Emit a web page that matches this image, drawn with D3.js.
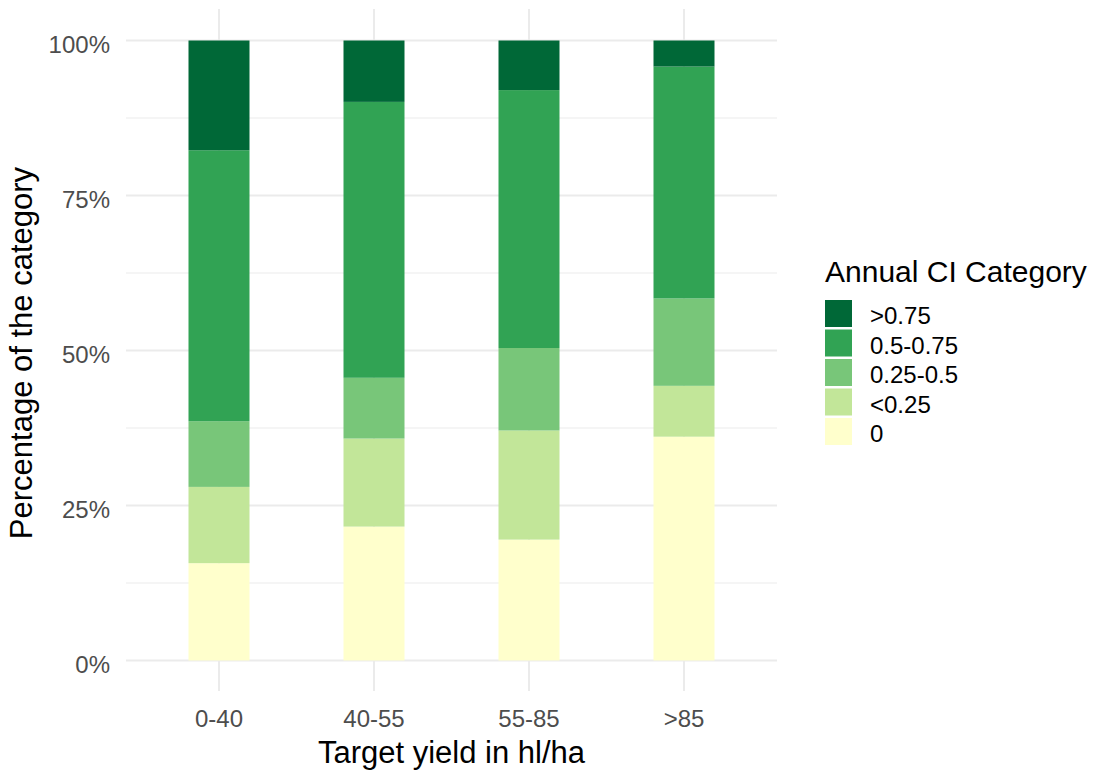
<!doctype html>
<html>
  <head>
    <meta charset="utf-8">
    <title>Annual CI by target yield</title>
    <script src="https://cdn.jsdelivr.net/npm/d3@7/dist/d3.min.js"></script>
    <style>
      body { margin: 0; background: #fff; }
      text { font-family: "Liberation Sans", Arial, sans-serif; }
    </style>
  </head>
  <body>
    <script>
      const yieldClasses = ['0-40', '40-55', '55-85', '>85'];
      const ciCategories = ['0', '<0.25', '0.25-0.5', '0.5-0.75', '>0.75'];   // bottom to top
      const ciColors = ['#ffffcc', '#c2e699', '#78c679', '#31a354', '#006837'];
      // share (%) of each CI category within a yield class
      const share0     = [15.7, 21.6, 19.5, 36.1];
      const shareLow   = [12.3, 14.2, 17.6,  8.2];
      const shareMid   = [10.6,  9.8, 13.3, 14.1];
      const shareHigh  = [43.7, 44.5, 41.6, 37.4];
      const shareTop   = [17.7,  9.9,  8.0,  4.2];
      const yTicks = [0, 25, 50, 75, 100];
      const yMinor = [12.5, 37.5, 62.5, 87.5];

      const width = 1102, height = 771;

      const data = yieldClasses.map((c, i) => ({
        cls: c,
        '0': share0[i], '<0.25': shareLow[i], '0.25-0.5': shareMid[i],
        '0.5-0.75': shareHigh[i], '>0.75': shareTop[i]
      }));
      // normalise to 100 %
      data.forEach(d => {
        const tot = d3.sum(ciCategories, k => d[k]);
        ciCategories.forEach(k => d[k] = d[k] / tot * 100);
      });

      const series = d3.stack().keys(ciCategories)(data);

      const svg = d3.select('body').append('svg')
          .attr('width', width)
          .attr('height', height);

      const panel = { left: 126, right: 777, top: 9, bottom: 691 };

      // category centres
      const x = d3.scalePoint()
          .domain(yieldClasses)
          .range([219, 684]);
      const barW = 61;

      const y = d3.scaleLinear()
          .domain([0, 100])
          .range([660.5, 40.5]);

      const color = d3.scaleOrdinal().domain(ciCategories).range(ciColors);

      // grid
      svg.append('g').selectAll('line')
        .data(yMinor)
        .enter().append('line')
          .attr('x1', panel.left).attr('x2', panel.right)
          .attr('y1', d => y(d)).attr('y2', d => y(d))
          .attr('stroke', '#ebebeb').attr('stroke-width', 1.2);
      svg.append('g').selectAll('line')
        .data(yTicks)
        .enter().append('line')
          .attr('x1', panel.left).attr('x2', panel.right)
          .attr('y1', d => y(d)).attr('y2', d => y(d))
          .attr('stroke', '#ebebeb').attr('stroke-width', 2);
      svg.append('g').selectAll('line')
        .data(yieldClasses)
        .enter().append('line')
          .attr('x1', d => x(d)).attr('x2', d => x(d))
          .attr('y1', panel.top).attr('y2', panel.bottom)
          .attr('stroke', '#ebebeb').attr('stroke-width', 2);

      // bars
      svg.append('g').selectAll('g')
        .data(series)
        .enter().append('g')
          .attr('fill', s => color(s.key))
        .selectAll('rect')
        .data(s => s)
        .enter().append('rect')
          .attr('x', d => x(d.data.cls) - barW / 2)
          .attr('width', barW)
          .attr('y', d => y(d[1]))
          .attr('height', d => y(d[0]) - y(d[1]));

      // y axis labels
      svg.append('g').selectAll('text')
        .data(yTicks)
        .enter().append('text')
          .attr('x', 110)
          .attr('y', d => y(d) + 12)
          .attr('text-anchor', 'end')
          .attr('font-size', 24)
          .attr('fill', '#4d4d4d')
          .text(d => d + '%');

      // x axis labels
      svg.append('g').selectAll('text')
        .data(yieldClasses)
        .enter().append('text')
          .attr('x', d => x(d))
          .attr('y', 727)
          .attr('text-anchor', 'middle')
          .attr('font-size', 24)
          .attr('fill', '#4d4d4d')
          .text(d => d);

      svg.append('text')
        .attr('x', (panel.left + panel.right) / 2)
        .attr('y', 763)
        .attr('text-anchor', 'middle')
        .attr('font-size', 31)
        .attr('fill', '#000')
        .text('Target yield in hl/ha');

      svg.append('text')
        .attr('transform', `translate(32,${(panel.top + panel.bottom) / 2 + 3}) rotate(-90)`)
        .attr('text-anchor', 'middle')
        .attr('font-size', 31)
        .attr('fill', '#000')
        .text('Percentage of the category');

      // legend
      const legend = svg.append('g').attr('transform', 'translate(825,0)');
      legend.append('text')
        .attr('x', 0).attr('y', 282)
        .attr('font-size', 30)
        .attr('fill', '#000')
        .text('Annual CI Category');
      const items = ciCategories.slice().reverse();
      const li = legend.selectAll('g.item')
        .data(items)
        .enter().append('g')
          .attr('class', 'item')
          .attr('transform', (d, i) => `translate(0,${300 + i * 29.5})`);
      li.append('rect')
        .attr('width', 27).attr('height', 27)
        .attr('fill', d => color(d));
      li.append('text')
        .attr('x', 45).attr('y', 24)
        .attr('font-size', 24)
        .attr('fill', '#000')
        .text(d => d);
    </script>
  </body>
</html>
